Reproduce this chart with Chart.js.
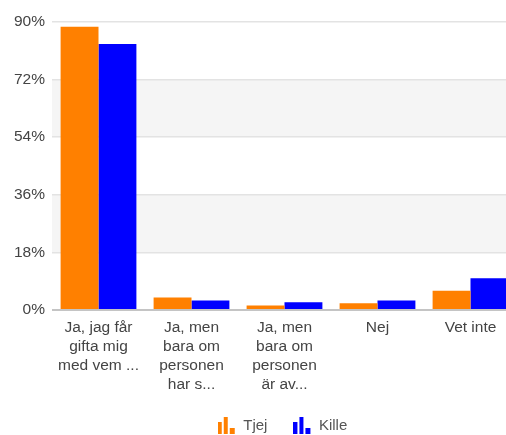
<!DOCTYPE html>
<html>
<head>
<meta charset="utf-8">
<script src="https://cdn.jsdelivr.net/npm/chart.js@4"></script>
<style>
html,body{margin:0;padding:0;background:#fff;overflow:hidden;}
#wrap{width:506px;height:435px;position:relative;overflow:hidden;}
canvas{display:block;}
</style>
</head>
<body>
<div id="wrap"><canvas id="c" width="565" height="443"></canvas></div>
<script>
const categories = [
  ["Ja, jag får","gifta mig","med vem ..."],
  ["Ja, men","bara om","personen","har s..."],
  ["Ja, men","bara om","personen","är av..."],
  "Nej",
  "Vet inte"
];
const seriesNames = ["Tjej", "Kille"];
const tjejValues = [88.5, 3.9, 1.4, 2.1, 6.0];
const killeValues = [83.1, 3.0, 2.4, 3.0, 9.9];
const yTicks = [0, 18, 36, 54, 72, 90];
const colors = ["#ff8000", "#0000ff"];

function makeIcon(color){
  const c = document.createElement('canvas');
  c.width = 18; c.height = 17;
  const g = c.getContext('2d');
  g.fillStyle = color;
  g.fillRect(0, 5, 4, 12);
  g.fillRect(6, 0, 4, 17);
  g.fillRect(12, 11, 5, 6);
  return c;
}
const icons = colors.map(makeIcon);

const bandPlugin = {
  id: 'bands',
  beforeDraw(chart){
    const {ctx, chartArea, scales} = chart;
    const y = scales.y;
    ctx.save();
    ctx.fillStyle = '#f5f5f5';
    [[18,36],[54,72]].forEach(([a,b])=>{
      const y1 = y.getPixelForValue(b), y2 = y.getPixelForValue(a);
      ctx.fillRect(chartArea.left, y1, chartArea.right - chartArea.left, y2 - y1);
    });
    ctx.restore();
  }
};

const font = "'Liberation Sans', Arial, sans-serif";

new Chart(document.getElementById('c'), {
  type: 'bar',
  data: {
    labels: categories,
    datasets: [
      {label: seriesNames[0], data: tjejValues, backgroundColor: colors[0], borderWidth: 0, yAxisID: 'y'},
      {label: seriesNames[1], data: killeValues, backgroundColor: colors[1], borderWidth: 0, yAxisID: 'y'}
    ]
  },
  options: {
    responsive: false,
    animation: false,
    devicePixelRatio: 1,
    datasets: { bar: { categoryPercentage: 0.815, barPercentage: 1.0 } },
    layout: { padding: { top: 22, right: 0, left: 0, bottom: 0 } },
    scales: {
      x: {
        grid: { display: false, drawTicks: false },
        border: { display: false },
        ticks: {
          color: '#444', autoSkip: false, maxRotation: 0, padding: 8,
          font: { family: font, size: 15.5, lineHeight: 19/15.5 }
        },
        afterFit(s){ s.height = 82; }
      },
      y: {
        min: 0, max: 90,
        afterBuildTicks(s){ s.ticks = yTicks.map(v => ({value: v})); },
        grid: {
          drawTicks: false,
          color: ctx => ctx.tick && ctx.tick.value === 0 ? '#c4c4c4' : '#e3e3e3',
          lineWidth: ctx => ctx.tick && ctx.tick.value === 0 ? 2 : 1.5
        },
        border: { display: false },
        ticks: {
          color: '#444', padding: 7,
          font: { family: font, size: 15.5 },
          callback: v => v + '%'
        },
        afterFit(s){ s.width = 52; }
      },
      spacer: {
        type: 'linear', position: 'right', display: true,
        grid: { display: false, drawTicks: false },
        border: { display: false },
        ticks: { display: false },
        afterFit(s){ s.width = 48; }
      }
    },
    plugins: {
      tooltip: { enabled: false },
      legend: {
        position: 'bottom',
        labels: {
          usePointStyle: true,
          pointStyleWidth: 18,
          color: '#555',
          padding: 26,
          font: { family: font, size: 15 },
          generateLabels(chart){
            const items = Chart.defaults.plugins.legend.labels.generateLabels(chart);
            items.forEach((it, i) => { it.pointStyle = icons[i]; });
            return items;
          }
        }
      }
    }
  },
  plugins: [bandPlugin]
});
</script>
</body>
</html>
